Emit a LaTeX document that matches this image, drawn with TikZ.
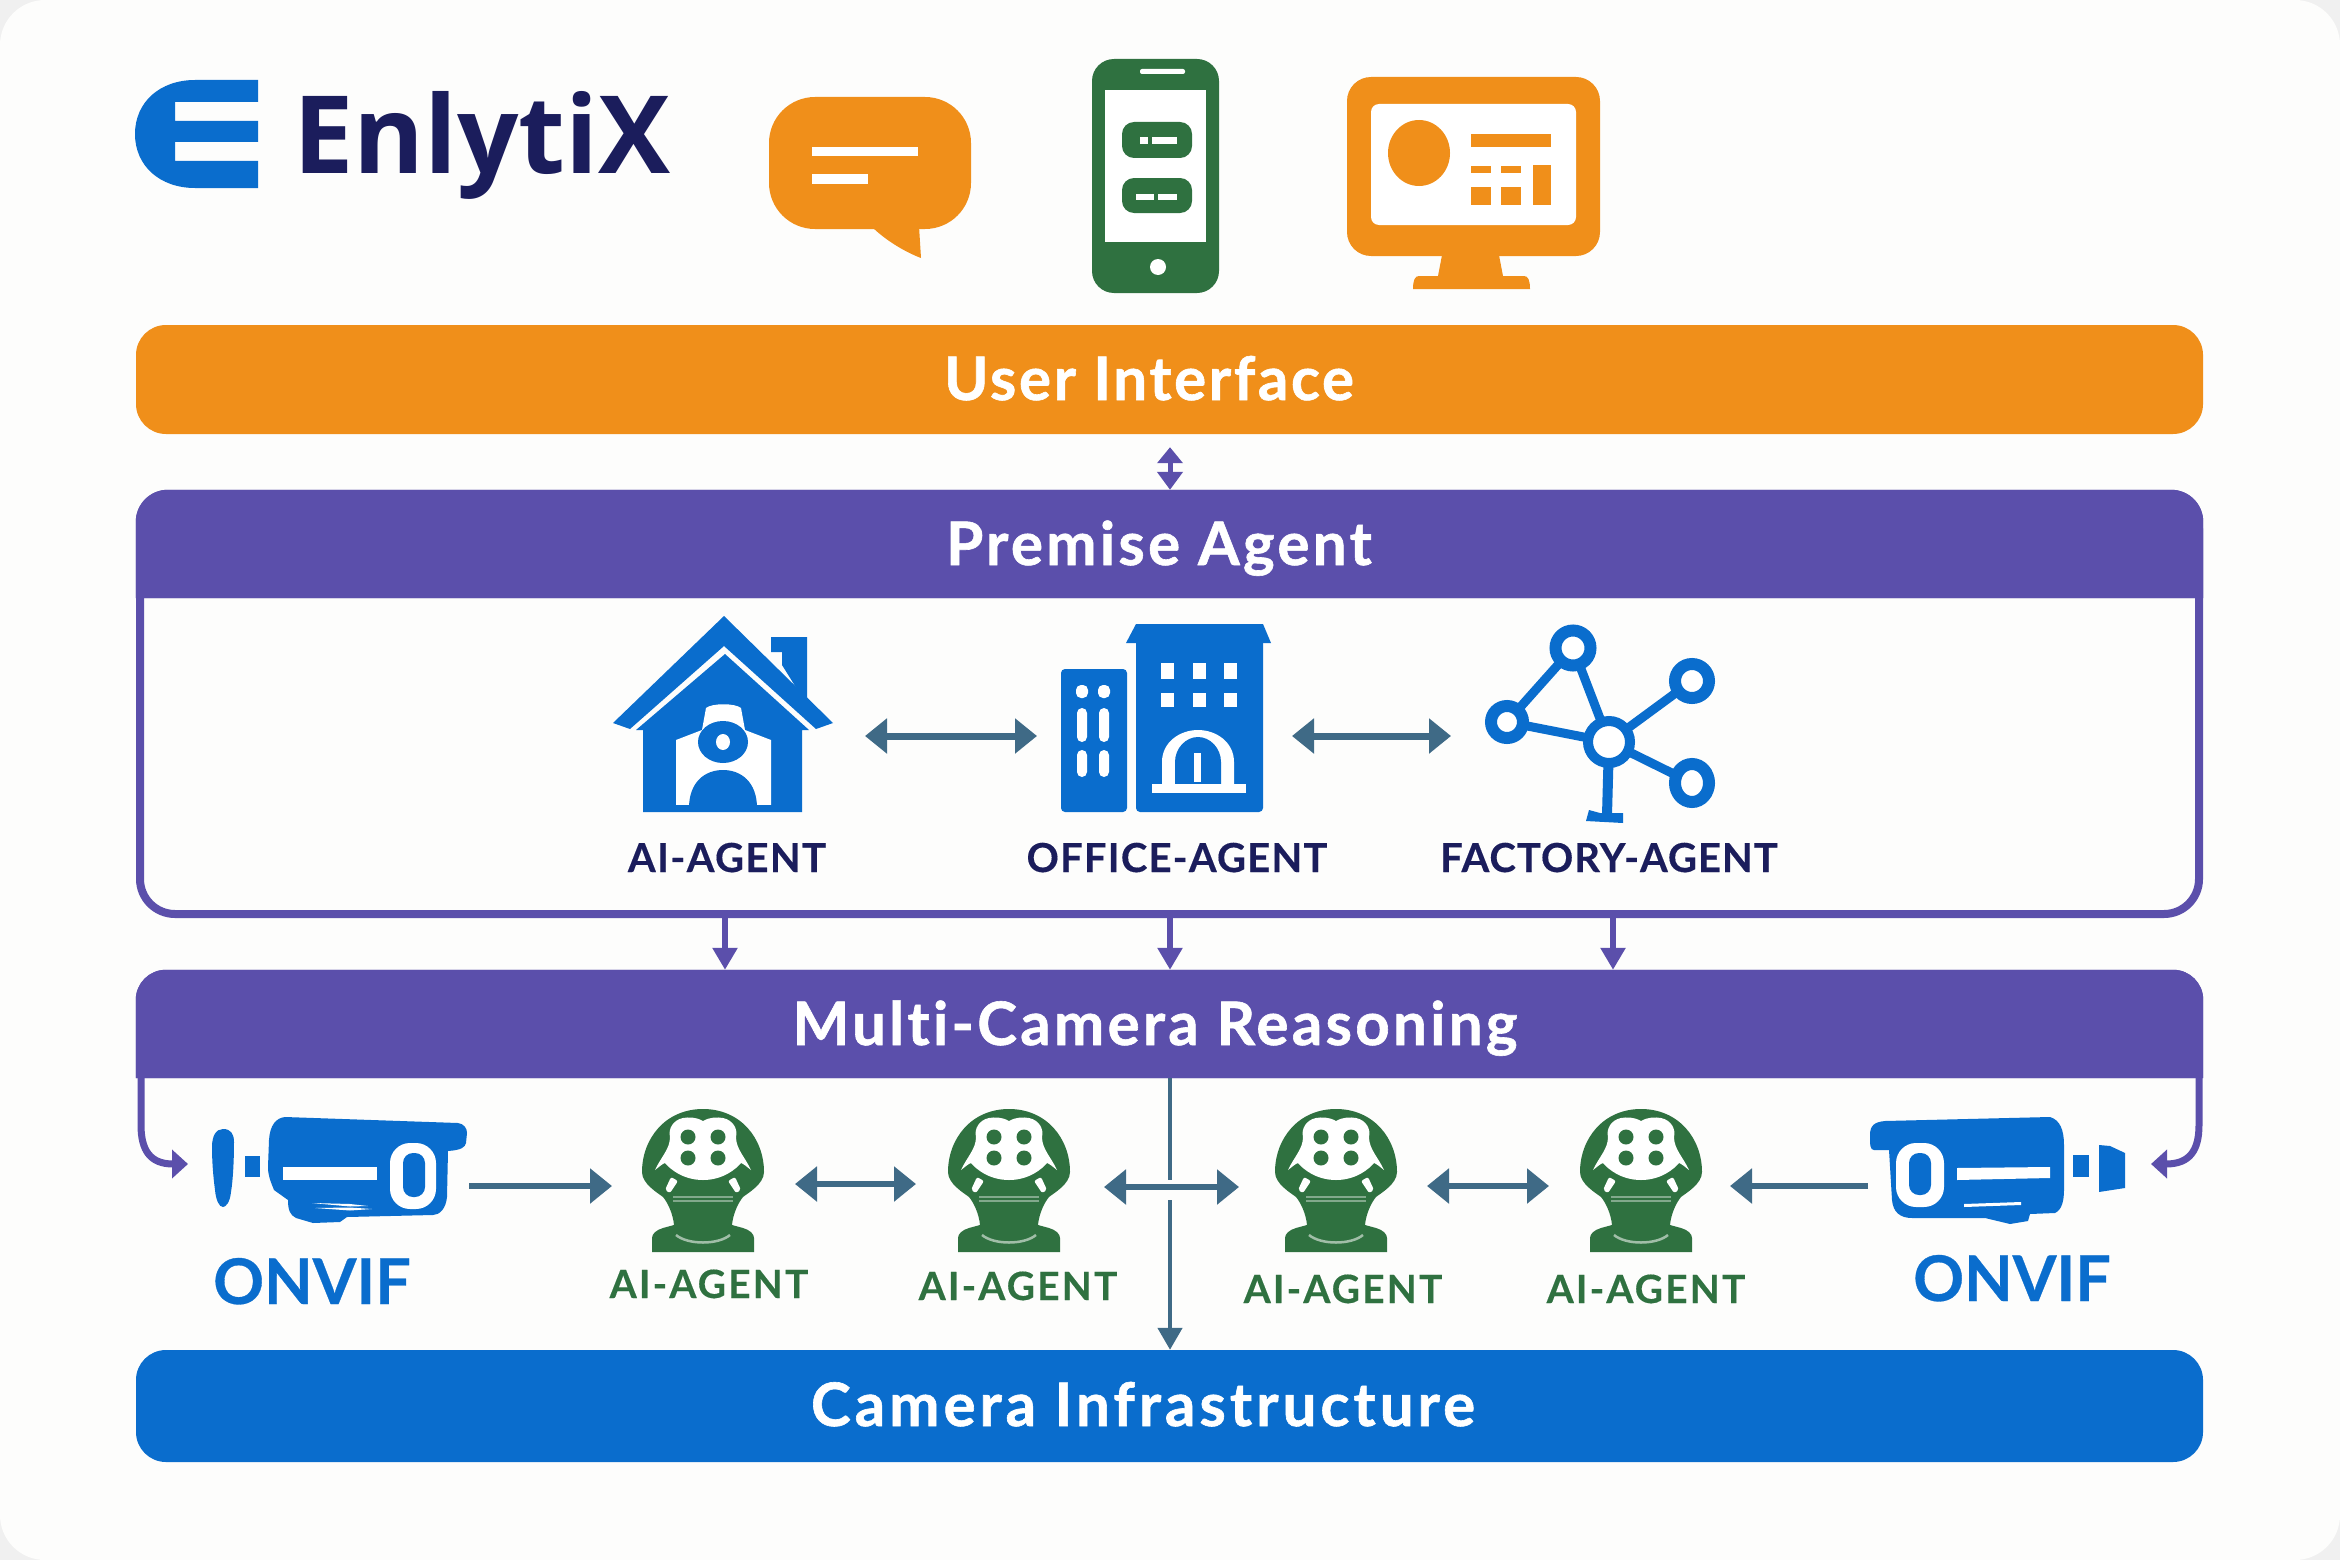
\documentclass[tikz,border=0pt]{standalone}
\usepackage{fontspec}
\usetikzlibrary{arrows.meta}
\setmainfont[Ligatures=NoCommon]{Lato}
\newfontfamily\logofont{Open Sans}
\newcommand{\tracked}[1]{\addfontfeature{LetterSpace=#1,FakeBold=0.3}}
\newcommand{\trackedheavy}[1]{\addfontfeature{LetterSpace=#1,FakeBold=1}}
\definecolor{cOrange}{HTML}{F08F1A}
\definecolor{cPurple}{HTML}{5B4FAB}
\definecolor{cBlue}{HTML}{0A6DCD}
\definecolor{cGreen}{HTML}{2F7140}
\definecolor{cSlate}{HTML}{3F6A86}
\definecolor{cNavy}{HTML}{1B1D5C}
\definecolor{cCard}{HTML}{FDFDFC}
\definecolor{cCorner}{HTML}{F0F0F0}
\tikzset{
  barbox/.style={inner sep=0pt,minimum width=2067pt,rounded corners=30pt,draw=none},
  bartext/.style={anchor=base,inner sep=0pt,text=white,font=\fontsize{60}{60}\selectfont\bfseries},
  sublabel/.style={anchor=base,inner sep=0pt,text=cNavy,font=\fontsize{40}{40}\selectfont\bfseries},
  agentlabel/.style={anchor=base,inner sep=0pt,text=cGreen,font=\fontsize{39}{39}\selectfont\bfseries},
  onviflabel/.style={anchor=base,inner sep=0pt,text=cBlue,font=\fontsize{63}{63}\selectfont\bfseries},
  slatearrow/.style={draw=cSlate,line width=7pt,{Triangle[length=22pt,width=34pt]}-{Triangle[length=22pt,width=34pt]}},
  slateone/.style={draw=cSlate,line width=6pt,-{Triangle[length=22pt,width=34pt]}},
  purplearrow/.style={draw=cPurple,line width=6pt,-{Triangle[length=22pt,width=24pt]}},
  anchorbox/.style={inner sep=0pt,draw=none},
}
\newcommand{\aihead}[1]{%
\begin{scope}[shift={(#1,1109)}]
 \fill[cGreen] (0,0) .. controls (38,0) and (61,30) .. (61,63) .. controls (61,75) and (45,84) .. (40,88)
   .. controls (35,94) and (30,105) .. (29,116) -- (40,119) .. controls (47,121) and (51,125) .. (51,129) -- (51,143) -- (-51,143) -- (-51,129)
   .. controls (-51,125) and (-47,121) .. (-40,119) -- (-29,116) .. controls (-30,105) and (-35,94) .. (-40,88)
   .. controls (-45,84) and (-61,75) .. (-61,63) .. controls (-61,30) and (-38,0) .. (0,0) -- cycle;
 \fill[white] (0,12) .. controls (-7,8) and (-14,8) .. (-20,9) .. controls (-30,11) and (-35,20) .. (-33,28)
   .. controls (-33,40) and (-42,48) .. (-48,61) .. controls (-44,58) and (-41,55) .. (-38,54)
   .. controls (-33,60) and (-20,71) .. (0,71) .. controls (20,71) and (33,60) .. (38,54)
   .. controls (41,55) and (44,58) .. (48,61) .. controls (42,48) and (33,40) .. (33,28)
   .. controls (35,20) and (30,11) .. (20,9) .. controls (14,8) and (7,8) .. (0,12) -- cycle;
 \foreach \dx in {-15,15} \foreach \dy in {28,49} \fill[cGreen] (\dx,\dy) circle[radius=7.5];
 \fill[white,rounded corners=2pt] (-38,81) -- (-32,68) -- (-25,72) -- (-33,84) -- cycle;
 \fill[white,rounded corners=2pt] (38,81) -- (32,68) -- (25,72) -- (33,84) -- cycle;
 \draw[white,opacity=.4,line width=2pt] (-30,88) -- (30,88);
 \draw[white,opacity=.4,line width=2pt] (-30,92) -- (30,92);
 \draw[white,opacity=.55,line width=2.5pt] (-27,126) .. controls (-15,136) and (15,136) .. (27,126);
\end{scope}}
\begin{document}
\begin{tikzpicture}[x=1pt,y=-1pt]
\useasboundingbox (0,0) rectangle (2340,1560);
\fill[cCorner] (0,0) rectangle (2340,1560);
\fill[cCard,rounded corners=45pt] (0,0) rectangle (2340,1560);

% logo
\fill[cBlue] (258,80) -- (195,80) .. controls (160,80) and (135,102) .. (135,134) .. controls (135,166) and (160,188) .. (195,188) -- (258,188) -- (258,161) -- (175,161) -- (175,142) -- (258,142) -- (258,121) -- (175,121) -- (175,102) -- (258,102) -- cycle;
\node[anchor=base,inner sep=0pt,text=cNavy,font=\logofont\fontsize{108}{108}\selectfont\bfseries] (logo) at (482,173) {EnlytiX};

% chat bubble
\fill[cOrange,rounded corners=46pt] (769,97) rectangle (971,229);
\fill[cOrange] (871,226) .. controls (885,240) and (905,252) .. (921,258) -- (919,226) -- cycle;
\fill[white] (812,147) rectangle (918,156);
\fill[white] (812,174) rectangle (868,184);

% phone
\fill[cGreen,rounded corners=22pt] (1092,59) rectangle (1219,293);
\fill[white,rounded corners=2pt] (1140,69) rectangle (1185,74);
\fill[white] (1105,90) rectangle (1206,242);
\fill[cGreen,rounded corners=12pt] (1122,122) rectangle (1192,158);
\fill[cGreen,rounded corners=12pt] (1122,178) rectangle (1192,213);
\fill[white] (1140,137) rectangle (1148,144);
\fill[white] (1152,137) rectangle (1177,144);
\fill[white] (1136,194) rectangle (1154,200);
\fill[white] (1158,194) rectangle (1177,200);
\fill[white] (1158,267) circle[radius=8];

% monitor
\fill[cOrange] (1443,250) -- (1498,250) -- (1503,276) -- (1524,276) .. controls (1528,276) and (1530,280) .. (1530,289) -- (1413,289) .. controls (1413,280) and (1415,276) .. (1419,276) -- (1438,276) -- cycle;
\fill[cOrange,rounded corners=24pt] (1347,77) rectangle (1600,256);
\fill[white,rounded corners=8pt] (1371,104) rectangle (1576,225);
\fill[cOrange] (1419,153) ellipse[x radius=31,y radius=33];
\fill[cOrange] (1471,134) rectangle (1551,147);
\fill[cOrange] (1471,166) rectangle (1491,173);
\fill[cOrange] (1501,166) rectangle (1521,173);
\fill[cOrange] (1471,187) rectangle (1491,205);
\fill[cOrange] (1501,187) rectangle (1521,205);
\fill[cOrange] (1533,165) rectangle (1551,205);

% bars
\node[barbox,fill=cOrange,minimum height=109pt] (ui) at (1169.5,379.5) {};
\node[bartext] (uit) at (1149,400) {\trackedheavy{4.4}User Interface};

\node[anchorbox,draw=cPurple,line width=8pt,rounded corners=35pt,minimum width=2059pt,minimum height=420pt] (pa) at (1169.5,704) {};
\node[anchorbox,minimum width=2067pt,minimum height=108pt] (pah) at (1169.5,544) {};
\fill[cPurple,rounded corners=32pt] (pah.south west) -- (pah.north west) -- (pah.north east) [sharp corners] -- (pah.south east) -- cycle;
\fill[cPurple,rounded corners=32pt] (pah.south east) -- (pah.north east) -- (pah.north west) [sharp corners] -- (pah.south west) -- cycle;
\node[bartext] (pat) at (1159,565) {\trackedheavy{5.5}Premise Agent};

\node[anchorbox,minimum width=2067pt,minimum height=108pt] (mc) at (1169.5,1024) {};
\fill[cPurple,rounded corners=30pt] (mc.south west) -- (mc.north west) -- (mc.north east) [sharp corners] -- (mc.south east) -- cycle;
\fill[cPurple,rounded corners=30pt] (mc.south east) -- (mc.north east) -- (mc.north west) [sharp corners] -- (mc.south west) -- cycle;
\node[bartext] (mct) at (1155,1045) {\trackedheavy{5.5}Multi-Camera Reasoning};

\node[barbox,fill=cBlue,minimum height=112pt] (ci) at (1169.5,1406) {};
\node[bartext] (cit) at (1143,1426) {\trackedheavy{6.7}Camera Infrastructure};

% home icon
\fill[cBlue] (771,637) -- (807,637) -- (807,705) -- (782,665) -- (782,652) -- (771,652) -- cycle;
\fill[cBlue] (724,616) -- (833,723) -- (816,729) -- (724,646) -- (630,729) -- (613,723) -- cycle;
\fill[cBlue] (725,654) -- (809,730) -- (802,730) -- (802,812) -- (643,812) -- (643,730) -- (636,730) -- cycle;
\fill[white] (676,740) -- (702,730) -- (706,708) .. controls (712,703) and (735,703) .. (741,708) -- (745,730) -- (771,740) -- (771,807) -- (676,807) -- cycle;
\fill[cBlue] (723,742) ellipse[x radius=25,y radius=21];
\fill[white] (723,742) ellipse[x radius=7,y radius=8];
\fill[cBlue] (689,808) .. controls (689,782) and (705,770) .. (723,770) .. controls (741,770) and (757,782) .. (757,808) -- cycle;
\fill[cBlue] (643,805) rectangle (802,812);
\node[anchorbox,minimum width=190pt,minimum height=190pt] (home) at (723,714) {};

% office icon
\fill[cBlue,rounded corners=4pt] (1061,669) rectangle (1127,812);
\foreach \cx in {1082,1104} {
  \fill[white,rounded corners=5pt] (\cx-6,685) rectangle (\cx+6,698);
  \fill[white,rounded corners=5pt] (\cx-5,708) rectangle (\cx+5,742);
  \fill[white,rounded corners=5pt] (\cx-5,750) rectangle (\cx+5,777);
}
\fill[cBlue,rounded corners=4pt] (1136,630) rectangle (1263,812);
\fill[cBlue] (1136,624) -- (1263,624) -- (1271,643) -- (1126,643) -- cycle;
\foreach \cx in {1167,1199,1230} {
  \fill[white] (\cx-6.5,663) rectangle (\cx+6.5,679);
  \fill[white] (\cx-6.5,693) rectangle (\cx+6.5,707);
}
\fill[white] (1162,784) -- (1162,762) .. controls (1162,742) and (1180,730) .. (1198,730) .. controls (1216,730) and (1234,742) .. (1234,762) -- (1234,784) -- cycle;
\fill[cBlue] (1175,784) -- (1175,762) .. controls (1175,748) and (1186,737) .. (1198,737) .. controls (1210,737) and (1221,748) .. (1221,762) -- (1221,784) -- cycle;
\fill[white] (1194,753) rectangle (1201,782);
\fill[white] (1152,784) rectangle (1246,793);
\node[anchorbox,minimum width=210pt,minimum height=190pt] (office) at (1166,718) {};

% network icon
\draw[cBlue,line width=9pt] (1573,648) -- (1507,722) -- (1609,742) -- cycle;
\draw[cBlue,line width=9pt] (1609,742) -- (1692,681);
\draw[cBlue,line width=9pt] (1609,742) -- (1692,783);
\draw[cBlue,line width=10pt] (1609,742) -- (1607,815);
\fill[cBlue] (1589,810) -- (1600,813) -- (1623,813) -- (1623,823) -- (1586,821) -- cycle;
\filldraw[draw=cBlue,fill=white,line width=12pt] (1573,648) circle[radius=17.5];
\filldraw[draw=cBlue,fill=white,line width=12pt] (1692,681) circle[radius=17];
\filldraw[draw=cBlue,fill=white,line width=12pt] (1692,783) ellipse[x radius=17,y radius=19];
\filldraw[draw=cBlue,fill=white,line width=12pt] (1507,722) circle[radius=16];
\filldraw[draw=cBlue,fill=white,line width=10pt] (1609,742) circle[radius=21];
\node[anchorbox,minimum width=210pt,minimum height=190pt] (net) at (1600,724) {};

% premise labels
\node[sublabel] (l1) at (727,872) {\tracked{3.5}AI-AGENT};
\node[sublabel] (l2) at (1177,872) {\tracked{3}OFFICE-AGENT};
\node[sublabel] (l3) at (1609,872) {\tracked{2.5}FACTORY-AGENT};

% premise arrows
\coordinate (pa1a) at (865,736); \coordinate (pa1b) at (1037,736);
\coordinate (pa2a) at (1292,736); \coordinate (pa2b) at (1451,736);
\draw[slatearrow] (pa1a) -- (pa1b);
\draw[slatearrow] (pa2a) -- (pa2b);

% vertical connectors
\coordinate (xa) at (725,0); \coordinate (xb) at (1170,0); \coordinate (xc) at (1613,0);
\draw[draw=cPurple,line width=5pt,{Triangle[length=16pt,width=25pt]}-{Triangle[length=18pt,width=25pt]}] (ui.south -| xb) ++(0,13) -- (pah.north -| xb);
\draw[purplearrow] (pa.south -| xa) -- (mc.north -| xa);
\draw[purplearrow] (pa.south -| xb) -- (mc.north -| xb);
\draw[purplearrow] (pa.south -| xc) -- (mc.north -| xc);

% left camera
\fill[cBlue] (223,1129) .. controls (231,1129) and (234,1134) .. (234,1142) .. controls (234,1160) and (233,1180) .. (231,1192) .. controls (230,1202) and (226,1207) .. (223,1207) .. controls (219,1207) and (216,1200) .. (215,1190) .. controls (213,1175) and (212,1160) .. (212,1147) .. controls (212,1136) and (216,1129) .. (223,1129) -- cycle;
\fill[cBlue] (245,1156) rectangle (260,1177);
\fill[cBlue] (285,1117) -- (458,1123) .. controls (464,1124) and (467,1128) .. (467,1133) -- (466,1143) .. controls (465,1147) and (462,1150) .. (448,1151) -- (447,1197) .. controls (446,1208) and (440,1215) .. (433,1215) -- (347,1217) -- (340,1222) -- (313,1223) -- (296,1218) .. controls (290,1215) and (288,1210) .. (288,1200) -- (274,1190) .. controls (270,1180) and (268,1175) .. (268,1167) -- (269,1140) .. controls (270,1125) and (276,1118) .. (285,1117) -- cycle;
\fill[white,rounded corners=20pt] (390,1143) rectangle (436,1209);
\fill[cBlue,rounded corners=10pt] (403,1153) rectangle (425,1197);
\fill[white] (283,1167) rectangle (377,1180);
\fill[white] (312,1203) -- (350,1204) -- (368,1206) -- (350,1206.5) -- cycle;
\fill[white] (315,1208) -- (350,1207.5) -- (372,1209) -- (350,1210.5) -- cycle;
\node[anchorbox,minimum width=260pt,minimum height=110pt] (camL) at (338,1170) {};

% right camera
\fill[cBlue] (2050,1117) .. controls (2060,1120) and (2064,1130) .. (2064,1145) -- (2064,1190) .. controls (2064,1200) and (2062,1210) .. (2055,1213) -- (2030,1214) -- (2028,1221) -- (2010,1224) -- (1985,1218) -- (1912,1218) .. controls (1900,1218) and (1893,1212) .. (1892,1200) -- (1889,1150) -- (1874,1150) .. controls (1870,1150) and (1870,1145) .. (1870,1135) .. controls (1870,1125) and (1875,1122) .. (1885,1121) -- cycle;
\fill[white,rounded corners=20pt] (1896,1143) rectangle (1944,1207);
\fill[cBlue,rounded corners=10pt] (1909,1153) rectangle (1931,1195);
\fill[white] (1957,1168) -- (2050,1167) -- (2050,1178) -- (1957,1180) -- cycle;
\fill[white] (1964,1204) -- (2021,1202) -- (2021,1205) -- (1964,1207) -- cycle;
\fill[cBlue] (2073,1155) rectangle (2089,1177);
\fill[cBlue] (2099,1145) -- (2110,1146) -- (2125,1153) -- (2125,1188) -- (2099,1192) -- cycle;
\node[anchorbox,minimum width=260pt,minimum height=110pt] (camR) at (1997,1170) {};
\node[onviflabel] (on1) at (312,1304) {\addfontfeature{FakeBold=0.5}ONVIF};
\node[onviflabel] (on2) at (2012,1301) {\addfontfeature{FakeBold=0.5}ONVIF};

% AI heads
\aihead{703}
\aihead{1009}
\aihead{1336}
\aihead{1641}
\node[anchorbox,minimum width=122pt,minimum height=143pt] (h1) at (703,1180) {};
\node[anchorbox,minimum width=122pt,minimum height=143pt] (h2) at (1009,1180) {};
\node[anchorbox,minimum width=122pt,minimum height=143pt] (h3) at (1336,1180) {};
\node[anchorbox,minimum width=122pt,minimum height=143pt] (h4) at (1641,1180) {};
\node[agentlabel] (a1) at (709,1298) {\tracked{5.5}AI-AGENT};
\node[agentlabel] (a2) at (1018,1300) {\tracked{5.5}AI-AGENT};
\node[agentlabel] (a3) at (1343,1303) {\tracked{5.5}AI-AGENT};
\node[agentlabel] (a4) at (1646,1303) {\tracked{5.5}AI-AGENT};

% side curved connectors
\coordinate (cl) at (188,1164); \coordinate (cr) at (2151,1164);
\draw[draw=cPurple,line width=7pt,-{Triangle[length=16pt,width=28pt]}] (141,1078) -- (141,1125) .. controls (141,1150) and (150,1164) .. (cl);
\draw[draw=cPurple,line width=7pt,-{Triangle[length=16pt,width=28pt]}] (2199,1078) -- (2199,1125) .. controls (2199,1150) and (2190,1164) .. (cr);

% slate connectors in lower row
\coordinate (p1) at (612,1186); \coordinate (p1s) at (469,1186);
\coordinate (p2a) at (795,1184); \coordinate (p2b) at (916,1184);
\coordinate (p3a) at (1104,1187); \coordinate (p3b) at (1239,1187);
\coordinate (p4a) at (1427,1186); \coordinate (p4b) at (1549,1186);
\coordinate (p5) at (1730,1186); \coordinate (p5s) at (1868,1186);
\draw[slateone] (p1s) -- (p1);
\draw[slateone] (p5s) -- (p5);
\draw[slatearrow,line width=6pt] (p2a) -- (p2b);
\draw[slatearrow,line width=6pt] (p4a) -- (p4b);
\coordinate (xv1) at (1170,1180); \coordinate (xv2) at (1170,1200);
\draw[draw=cSlate,line width=4.5pt] (mc.south -| xb) -- (xv1);
\draw[draw=cSlate,line width=4.5pt,-{Triangle[length=22pt,width=24pt]}] (xv2) -- (ci.north -| xb);
\draw[slatearrow,line width=6pt] (p3a) -- (p3b);
\end{tikzpicture}
\end{document}
